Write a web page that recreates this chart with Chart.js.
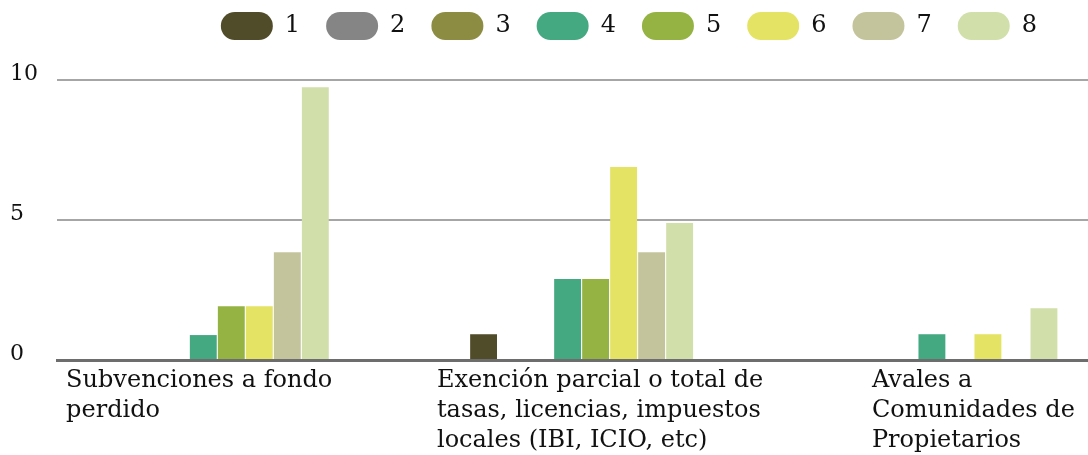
<!DOCTYPE html>
<html>
<head>
<meta charset="utf-8">
<script src="https://cdn.jsdelivr.net/npm/chart.js@4/dist/chart.umd.min.js"></script>
<style>
html,body{margin:0;padding:0;background:#fff;overflow:hidden;}
#wrap{position:relative;width:1088px;height:455px;}
</style>
</head>
<body>
<div id="wrap"><canvas id="c"></canvas></div>
<script>
const categories = [
  ['Subvenciones a fondo', 'perdido'],
  ['Exención parcial o total de', 'tasas, licencias, impuestos', 'locales (IBI, ICIO, etc)'],
  ['Avales a', 'Comunidades de', 'Propietarios']
];
const seriesNames = ['1', '2', '3', '4', '5', '6', '7', '8'];
const s1 = [0, 0.92, 0];
const s2 = [0, 0, 0];
const s3 = [0, 0, 0];
const s4 = [0.89, 2.89, 0.92];
const s5 = [1.92, 2.89, 0];
const s6 = [1.92, 6.89, 0.92];
const s7 = [3.85, 3.85, 0];
const s8 = [9.74, 4.89, 1.85];
const yTicks = [0, 5, 10];

const seriesValues = [s1, s2, s3, s4, s5, s6, s7, s8];
const colors = ['#504c2a', '#858585', '#8c8d43', '#44a880', '#94b343', '#e4e363', '#c4c49c', '#d1dfaa'];
const labelAnchors = [-0.415, 0.603, 1.797];
const FONT = 'DejaVu Serif';

const legendShift = {
  id: 'legendShift',
  afterLayout(chart) {
    const l = chart.legend;
    if (l) { l.left -= 25; l.right -= 25; }
  }
};

new Chart(document.getElementById('c'), {
  type: 'bar',
  data: {
    datasets: seriesValues.map((vals, k) => ({
      label: seriesNames[k],
      data: vals.map((v, i) => ({ x: i, y: v })),
      backgroundColor: colors[k],
      borderWidth: 0,
      categoryPercentage: 0.615,
      barPercentage: 0.96
    }))
  },
  options: {
    responsive: true,
    maintainAspectRatio: false,
    animation: false,
    events: [],
    layout: { padding: { top: -14, left: 10, right: 0, bottom: 0 } },
    plugins: {
      tooltip: { enabled: false },
      legend: {
        position: 'top',
        align: 'end',
        labels: {
          boxWidth: 52,
          boxHeight: 28,
          useBorderRadius: true,
          borderRadius: 14,
          padding: 26,
          color: '#111',
          font: { family: FONT, size: 24 }
        }
      }
    },
    scales: {
      x: {
        type: 'linear',
        offset: false,
        min: -0.44,
        max: 2.39,
        grid: { display: false, drawTicks: false },
        border: { display: true, color: '#6d6d6d', width: 3 },
        afterBuildTicks: (s) => { s.ticks = labelAnchors.map(v => ({ value: v })); },
        afterFit: (s) => { s.height = 95; },
        ticks: {
          align: 'start',
          autoSkip: false,
          maxRotation: 0,
          minRotation: 0,
          padding: 6,
          color: '#111',
          font: { family: FONT, size: 24, lineHeight: 1.25 },
          callback: (v, i) => categories[i]
        }
      },
      y: {
        min: 0,
        max: 11.07,
        afterBuildTicks: (s) => { s.ticks = yTicks.map(v => ({ value: v })); },
        afterFit: (s) => { s.width = 47; },
        grid: {
          drawTicks: false,
          lineWidth: 2,
          color: (ctx) => ctx.tick && ctx.tick.value === 0 ? 'rgba(0,0,0,0)' : '#a6a6a6'
        },
        border: { display: false },
        ticks: {
          crossAlign: 'far',
          padding: 0,
          labelOffset: -6,
          color: '#111',
          font: { family: FONT, size: 22 }
        }
      }
    }
  },
  plugins: [legendShift]
});
</script>
</body>
</html>
